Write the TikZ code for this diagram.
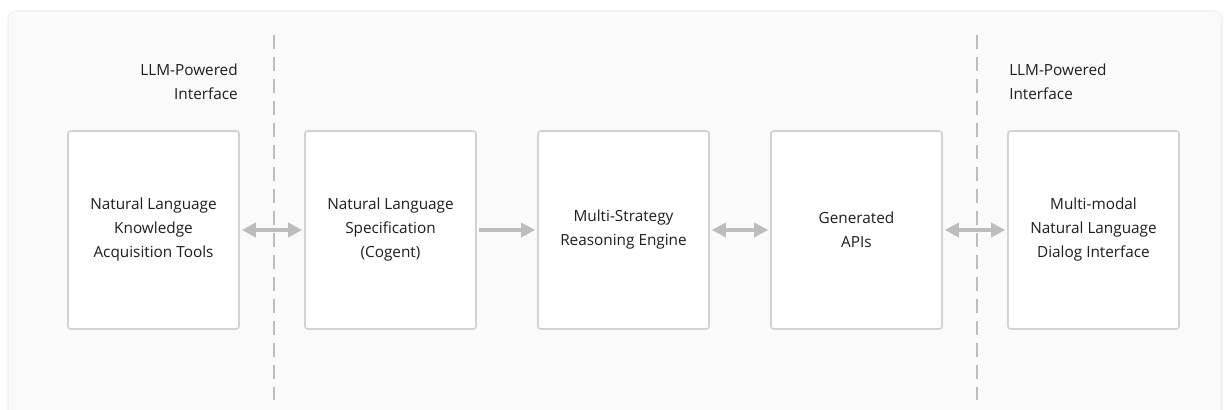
\documentclass[tikz,border=0pt]{standalone}
\usepackage{fontspec}
\setmainfont{Open Sans}
\usetikzlibrary{arrows.meta}
\definecolor{panelbg}{HTML}{FAFAFA}
\definecolor{panelln}{HTML}{EFEFEF}
\definecolor{boxln}{HTML}{D2D2D2}
\definecolor{arrln}{HTML}{BDBDBD}
\definecolor{txt}{HTML}{1E1E1E}
\begin{document}
\begin{tikzpicture}[x=0.75pt, y=-0.75pt]
      \tikzstyle{BOX} = [draw=boxln, line width=1.2pt, fill=white, rectangle, minimum height=148.5pt, minimum width=128.25pt, rounded corners=2pt, align=center, text=txt, font=\fontsize{11.5pt}{18pt}\selectfont]
      \tikzstyle{ARROW} = [draw=arrln, line width=3pt, shorten >=1.5pt, shorten <=1.5pt, -{Triangle[length=10.5pt, width=10.5pt]}]
      \tikzstyle{BIARROW} = [ARROW, {Triangle[length=10.5pt, width=10.5pt]}-{Triangle[length=10.5pt, width=10.5pt]}]
      \tikzstyle{SEP} = [draw=arrln, line width=2pt, dash pattern=on 10.5pt off 6pt]
      \tikzstyle{LBL} = [text=txt, font=\fontsize{11.5pt}{18pt}\selectfont, inner sep=0pt]

      \useasboundingbox (0,0) rectangle (1225,410);

      %%%%% PANEL
      \draw[fill=panelbg, draw=panelln, line width=0.8pt, rounded corners=6pt] (8,11) rectangle (1222,430);

      %%%%% SEPARATORS
      \coordinate (s1a) at (274,35);  \coordinate (s1b) at (274,400);
      \coordinate (s2a) at (977,35);  \coordinate (s2b) at (977,400);
      \draw[SEP] (s1a) -- (s1b);
      \draw[SEP] (s2a) -- (s2b);

      \node[LBL, align=right, anchor=east](l1) at (238, 82) {LLM-Powered\\Interface};
      \node[LBL, align=left, anchor=west](l2) at (1009, 82) {LLM-Powered\\Interface};

      %%%%% BOXES
      \node[BOX](b1) at (153.5, 230) {Natural Language\\Knowledge\\Acquisition Tools};
      \node[BOX](b2) at (390.5, 230) {Natural Language\\Specification\\(Cogent)};
      \node[BOX](b3) at (623.5, 230) {Multi-Strategy\\Reasoning Engine};
      \node[BOX](b4) at (856.5, 230) {Generated\\APIs};
      \node[BOX](b5) at (1093.5, 230) {Multi-modal\\Natural Language\\Dialog Interface};

      %%%%% ARROWS
      \draw[BIARROW] (b1) -- (b2);
      \draw[ARROW]   (b2) -- (b3);
      \draw[BIARROW] (b3) -- (b4);
      \draw[BIARROW] (b4) -- (b5);
\end{tikzpicture}
\end{document}
